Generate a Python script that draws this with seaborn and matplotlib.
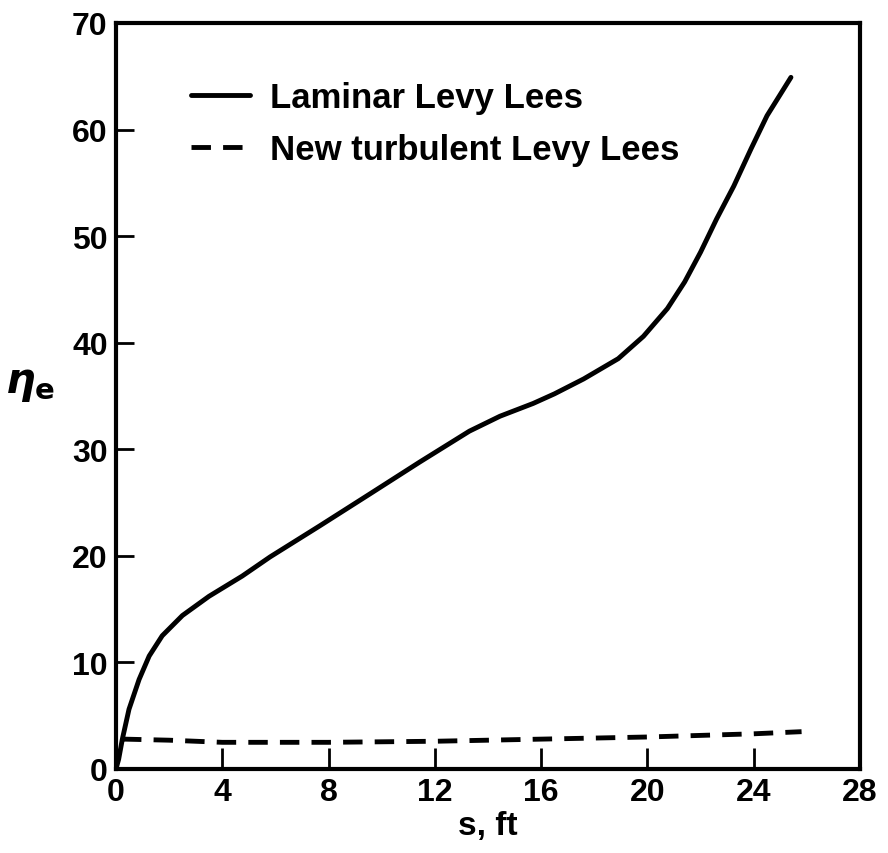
import pandas as pd
import matplotlib.pyplot as plt
import seaborn as sns

# values
s_laminar = [0.0, 0.1, 0.24, 0.49, 0.87, 1.25, 1.74, 2.5, 3.5, 4.75, 5.8, 7.66,
             9.55, 11.43, 13.3, 14.45, 15.7, 16.5, 17.6, 18.9, 19.85,
             20.75, 21.4, 22.0, 22.6, 23.25, 23.9, 24.5, 25.4]
eta_laminar = [0.0, 0.9, 2.8, 5.6, 8.4, 10.6, 12.5, 14.4, 16.2, 18.1, 19.9, 22.8,
               25.8, 28.8, 31.7, 33.1, 34.3, 35.2, 36.6, 38.5, 40.6,
               43.2, 45.7, 48.5, 51.6, 54.7, 58.2, 61.3, 64.9]

s_turb = [0.0, 0.1, 0.3, 2.0, 4.0, 8.0, 12.0, 16.0, 20.0, 24.0, 25.8]
eta_turb = [0.0, 2.6, 2.8, 2.7, 2.5, 2.5, 2.6, 2.8, 3.0, 3.3, 3.5]

labels = ['Laminar Levy Lees', 'New turbulent Levy Lees']
x_ticks = [0, 4, 8, 12, 16, 20, 24, 28]
y_ticks = [0, 10, 20, 30, 40, 50, 60, 70]

df = pd.concat([
    pd.DataFrame({'s': s_laminar, 'eta': eta_laminar, 'curve': labels[0]}),
    pd.DataFrame({'s': s_turb, 'eta': eta_turb, 'curve': labels[1]}),
])

sns.set_style('ticks', {'axes.edgecolor': 'black', 'text.color': 'black',
                        'xtick.color': 'black', 'ytick.color': 'black',
                        'axes.labelcolor': 'black'})
plt.rcParams['font.family'] = ['Liberation Sans', 'DejaVu Sans']
plt.rcParams['font.weight'] = 'bold'
plt.rcParams['mathtext.fontset'] = 'dejavusans'

fig = plt.figure(figsize=(8.88, 8.54), dpi=100)
ax = fig.add_axes([0.1306, 0.0984, 0.8379, 0.8735])

sns.lineplot(data=df, x='s', y='eta', hue='curve', style='curve',
             palette=['black', 'black'],
             dashes={labels[0]: '', labels[1]: (4, 2.5)},
             linewidth=3.5, ax=ax)

ax.set_xlim(0, 28)
ax.set_ylim(0, 70)
ax.set_xticks(x_ticks)
ax.set_yticks(y_ticks)
ax.tick_params(direction='in', width=2, length=13, labelsize=23, pad=6,
               color='black', labelcolor='black')
ax.tick_params(axis='x', length=15)
ax.tick_params(top=False, right=False)
for sp in ax.spines.values():
    sp.set_linewidth(3)
    sp.set_color('black')
    sp.set_visible(True)

ax.set_xlabel('s, ft', fontsize=24, fontweight='bold', labelpad=2)
ax.set_ylabel(r'$\eta_{\mathbf{e}}$', fontsize=30, rotation=0)
ax.yaxis.set_label_coords(-0.115, 0.49)

leg = ax.legend(loc='upper left', bbox_to_anchor=(0.077, 0.945), frameon=False,
                fontsize=25, handlelength=1.7, handletextpad=0.6,
                labelspacing=0.55, borderpad=0)
for t in leg.get_texts():
    t.set_fontweight('bold')
    t.set_color('black')

fig.savefig('out.png', dpi=100)
